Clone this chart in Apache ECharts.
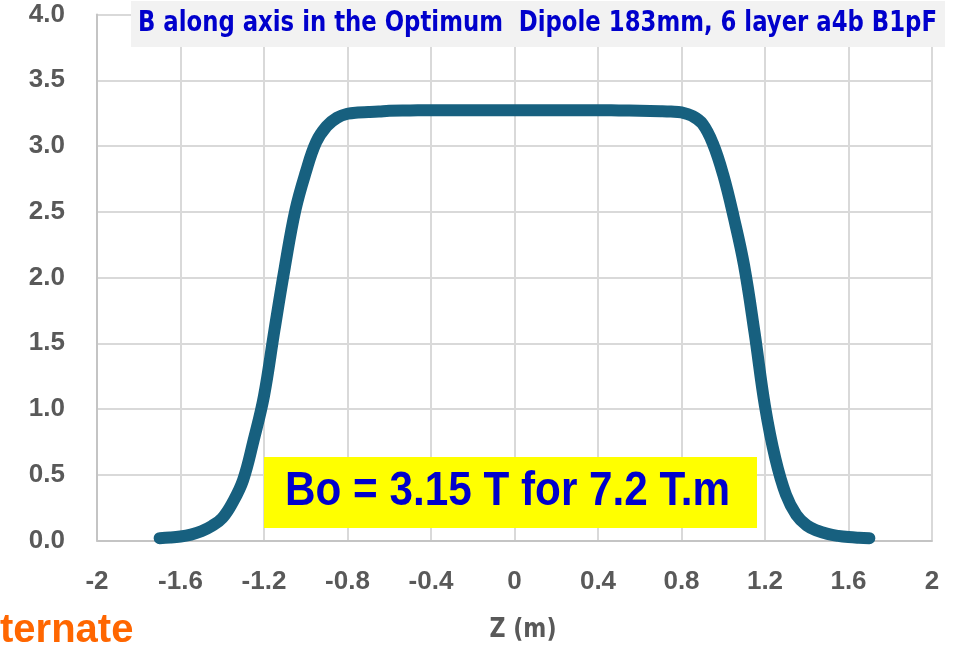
<!DOCTYPE html>
<html>
<head>
<meta charset="utf-8">
<script src="https://cdn.jsdelivr.net/npm/echarts@6/dist/echarts.min.js"></script>
<style>
  html, body { margin: 0; padding: 0; background: #ffffff; }
  #chart { width: 953px; height: 649px; }
</style>
</head>
<body>
<div id="chart"></div>
<script>
// Axial field profile of the dipole: position along the axis (m) and field (T)
const zValues = [
  -1.70, -1.65, -1.60, -1.55, -1.50, -1.45, -1.40, -1.35, -1.30, -1.25,
  -1.20, -1.15, -1.10, -1.05, -1.00, -0.95, -0.90, -0.85, -0.80, -0.75,
  -0.70, -0.65, -0.60, -0.50, -0.40, -0.30, -0.20, -0.10, 0.00, 0.10,
  0.20, 0.30, 0.40, 0.50, 0.60, 0.70, 0.75, 0.80, 0.85, 0.90,
  0.95, 1.00, 1.05, 1.10, 1.15, 1.20, 1.25, 1.30, 1.35, 1.40,
  1.45, 1.50, 1.55, 1.60, 1.65, 1.70
];
const bValues = [
  0.018, 0.022, 0.030, 0.045, 0.070, 0.110, 0.170, 0.290, 0.460, 0.760,
  1.100, 1.600, 2.080, 2.510, 2.800, 3.030, 3.150, 3.215, 3.245, 3.255,
  3.258, 3.262, 3.268, 3.270, 3.272, 3.272, 3.272, 3.272, 3.272, 3.272,
  3.272, 3.272, 3.272, 3.270, 3.268, 3.265, 3.262, 3.255, 3.230, 3.170,
  3.020, 2.780, 2.460, 2.090, 1.580, 1.020, 0.620, 0.350, 0.195, 0.115,
  0.075, 0.050, 0.035, 0.026, 0.021, 0.018
];

// Axis ranges and tick steps
const xRange = [-2, 2];
const xStep = 0.4;
const yRange = [0, 4];
const yStep = 0.5;

// Texts
const titleText = 'B along axis in the Optimum  Dipole 183mm, 6 layer a4b B1pF';
const noteText = 'Bo = 3.15 T for 7.2 T.m';
const xAxisTitle = 'Z (m)';
const cornerText = 'ternate';

const seriesData = zValues.map((z, i) => [z, bValues[i]]);

// Horizontal stretch factor so a text string spans a given pixel width
function fitScale(text, font, targetWidth) {
  const ctx = document.createElement('canvas').getContext('2d');
  ctx.font = font;
  const w = ctx.measureText(text).width;
  return w > 0 ? targetWidth / w : 1;
}

const narrowFamily = '"Liberation Sans Narrow", "DejaVu Sans Condensed", "Liberation Sans", sans-serif';
const sansFamily = '"Liberation Sans", Arial, sans-serif';

const titleFont = 'bold 29px ' + narrowFamily;
const noteFont = 'bold 49px ' + sansFamily;
const axisTitleFont = 'bold 27px ' + narrowFamily;
const titleScale = fitScale(titleText, titleFont, 799);
const noteScale = fitScale(noteText, noteFont, 445);
const axisTitleScale = fitScale(xAxisTitle, axisTitleFont, 67);

const chart = echarts.init(document.getElementById('chart'), null, { renderer: 'canvas' });

chart.setOption({
  animation: false,
  backgroundColor: '#ffffff',
  grid: {
    left: 97, right: 21, top: 14.5, bottom: 108.5,
    containLabel: false,
    outerBoundsMode: 'none'
  },
  xAxis: {
    type: 'value',
    min: xRange[0], max: xRange[1], interval: xStep,
    axisLine: { show: true, onZero: false, lineStyle: { color: '#c4c4c4', width: 2 } },
    axisTick: { show: false },
    splitLine: { show: true, lineStyle: { color: '#d9d9d9', width: 2 } },
    axisLabel: {
      margin: 28,
      color: '#595959',
      fontSize: 26,
      fontWeight: 'bold',
      fontFamily: sansFamily,
      showMinLabel: true, showMaxLabel: true
    }
  },
  yAxis: {
    type: 'value',
    min: yRange[0], max: yRange[1], interval: yStep,
    axisLine: { show: true, onZero: false, lineStyle: { color: '#c4c4c4', width: 2 } },
    axisTick: { show: false },
    splitLine: { show: true, lineStyle: { color: '#d9d9d9', width: 2 } },
    axisLabel: {
      margin: 32,
      color: '#595959',
      fontSize: 26,
      fontWeight: 'bold',
      fontFamily: sansFamily,
      formatter: v => v.toFixed(1)
    }
  },
  series: [{
    type: 'line',
    data: seriesData,
    showSymbol: false,
    smooth: 0.4,
    lineStyle: { color: '#17607f', width: 12, cap: 'round', join: 'round' },
    z: 3
  }],
  graphic: [
    // Title panel
    { type: 'rect', shape: { x: 131, y: 1, width: 814, height: 46 }, style: { fill: '#f2f2f2' }, z: 10 },
    {
      type: 'text', x: 537.5, y: 23.5, scaleX: titleScale, z: 11,
      style: { text: titleText, font: titleFont, fill: '#0000cc', align: 'center', verticalAlign: 'middle' }
    },
    // Integrated field note
    { type: 'rect', shape: { x: 264, y: 457, width: 493, height: 71 }, style: { fill: '#ffff00' }, z: 10 },
    {
      type: 'text', x: 507.5, y: 491, scaleX: noteScale, z: 11,
      style: { text: noteText, font: noteFont, fill: '#0000cc', align: 'center', verticalAlign: 'middle' }
    },
    // Horizontal axis title
    {
      type: 'text', x: 523, y: 630, scaleX: axisTitleScale, z: 11,
      style: { text: xAxisTitle, font: axisTitleFont, fill: '#595959', align: 'center', verticalAlign: 'middle' }
    },
    // Orange word at the lower left
    {
      type: 'text', x: 0, y: 631, z: 11,
      style: { text: cornerText, font: 'bold 40px ' + sansFamily, fill: '#ff6600', align: 'left', verticalAlign: 'middle' }
    }
  ]
});
</script>
</body>
</html>
